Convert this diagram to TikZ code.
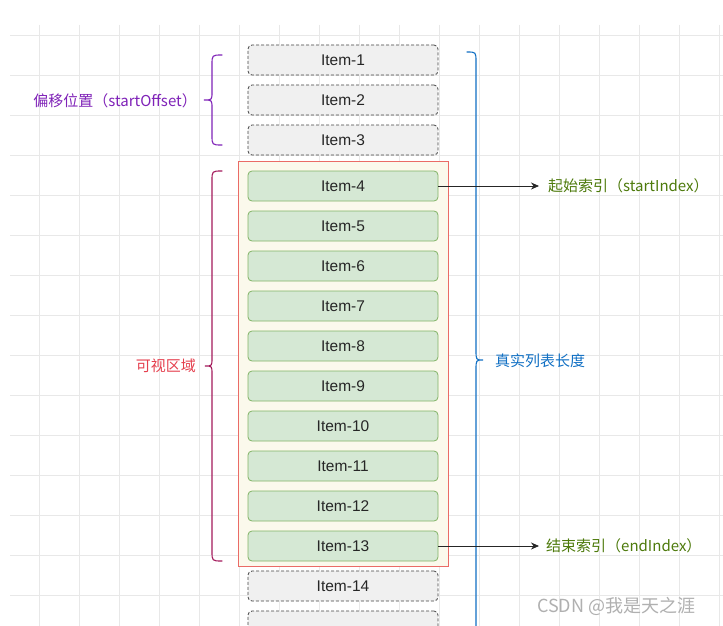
\documentclass[tikz,border=0pt]{standalone}
\usepackage{fontspec}
\setmainfont{Liberation Sans}
\newfontfamily\cjk{Noto Sans CJK SC}
\usetikzlibrary{arrows.meta}
\definecolor{gridc}{HTML}{E8E8E8}
\definecolor{greyfill}{HTML}{F0F0F0}
\definecolor{greyline}{HTML}{444444}
\definecolor{greenfill}{HTML}{D5E8D4}
\definecolor{greenline}{HTML}{82B366}
\definecolor{viewfill}{HTML}{FBF9EC}
\definecolor{viewline}{HTML}{EA6B66}
\definecolor{offc}{HTML}{7F22B8}
\definecolor{visc}{HTML}{A3195B}
\definecolor{vislabel}{HTML}{E5404E}
\definecolor{bluec}{HTML}{1170C4}
\definecolor{greentext}{HTML}{4D7A0B}
\definecolor{wmark}{HTML}{B0B0B0}
\tikzset{
  itembase/.style={minimum width=190pt, minimum height=30pt, rounded corners=4pt, inner sep=0pt, font=\fontsize{15.5}{15.5}\selectfont, text=black!85, line width=0.8pt},
  ghost/.style={itembase, fill=greyfill, draw=greyline, dashed, dash pattern=on 3pt off 2pt},
  live/.style={itembase, fill=greenfill, draw=greenline},
  lab/.style={font=\cjk\fontsize{15}{15}\selectfont, inner sep=0pt},
  bracepen/.style={line width=1.1pt, line cap=round},
  idxarrow/.style={-{Stealth[length=8pt,width=7pt]}, line width=0.8pt, black!85}
}
\begin{document}
\begin{tikzpicture}[x=1pt,y=-1pt]
\useasboundingbox (0,0) rectangle (723,626);
\fill[white] (0,0) rectangle (723,626);
% grid
\foreach \gx in {39,79,...,719} \draw[gridc, line width=0.8pt] (\gx,25) -- (\gx,626);
\foreach \gy in {35,75,...,615} \draw[gridc, line width=0.8pt] (10,\gy) -- (723,\gy);
% visible region frame
\node[draw=viewline, fill=viewfill, line width=0.9pt, minimum width=210pt, minimum height=405pt, inner sep=0pt] (view) at (343,363.5) {};
% items
\node[ghost] (i1) at (343,60) {Item-1};
\node[ghost] (i2) at (343,100) {Item-2};
\node[ghost] (i3) at (343,140) {Item-3};
\foreach \k in {4,...,13} {
  \pgfmathtruncatemacro{\yy}{186+40*(\k-4)}
  \node[live] (i\k) at (343,\yy) {Item-\k};
}
\node[ghost] (i14) at (343,586) {Item-14};
\begin{scope}
\clip (0,0) rectangle (723,626);
\node[ghost] (i15) at (343,626) {};
% blue brace (true list length)
\draw[bluec, bracepen] (467,52) .. controls (476,52) .. (476,62) -- (476,350) .. controls (476,360) .. (483,360) .. controls (476,360) .. (476,370) -- (476,658) .. controls (476,668) .. (467,668);
\end{scope}
% offset brace
\draw[offc, bracepen] (222,55) .. controls (212,55) .. (212,65) -- (212,92) .. controls (212,100) .. (204,100) .. controls (212,100) .. (212,108) -- (212,135) .. controls (212,145) .. (222,145);
% visible brace
\draw[visc, bracepen] (222,171) .. controls (212,171) .. (212,181) -- (212,358) .. controls (212,366) .. (205,366) .. controls (212,366) .. (212,374) -- (212,551) .. controls (212,561) .. (222,561);
% labels
\node[lab, text=offc, anchor=east] (loff) at (197,101) {偏移位置（startOffset）};
\node[lab, text=vislabel, anchor=east] (lvis) at (196,366) {可视区域};
\node[lab, text=bluec, anchor=west] (ltrue) at (495,361) {真实列表长度};
% index arrows
\coordinate (a4) at (539,186);
\coordinate (a13) at (539,546);
\draw[idxarrow] (i4.east) -- (a4);
\draw[idxarrow] (i13.east) -- (a13);
\node[lab, text=greentext, anchor=west] (lstart) at (548,186) {起始索引（startIndex）};
\node[lab, text=greentext, anchor=west] (lend) at (546,546) {结束索引（endIndex）};
% watermark
\node[font=\cjk\fontsize{18}{18}\selectfont, text=wmark, anchor=west, inner sep=0pt] (wm) at (537,606) {CSDN @我是天之涯};
\end{tikzpicture}
\end{document}
